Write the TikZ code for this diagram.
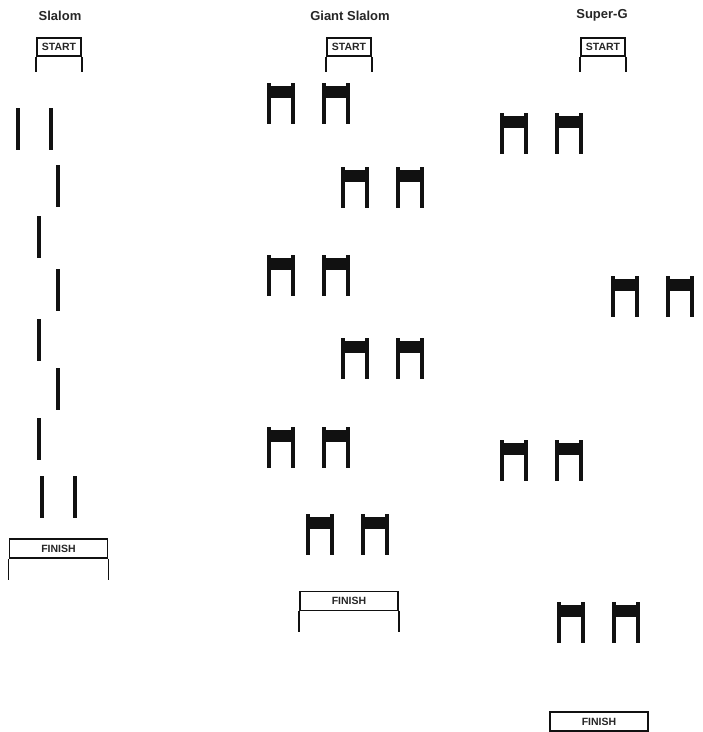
\documentclass[tikz,border=0pt]{standalone}
\usepackage{fontspec}
\setmainfont{Liberation Sans}
\usepackage{tikz}
\usetikzlibrary{positioning}
\definecolor{encre}{HTML}{111111}
\definecolor{texte}{HTML}{262626}
\tikzset{
  titre/.style={font=\fontsize{13}{15}\selectfont\bfseries, text=texte, anchor=base},
  banner/.style={rectangle, draw=encre, line width=1.9pt, fill=white, inner sep=0pt,
                 font=\fontsize{10.5}{12}\selectfont\bfseries, text=texte},
  startbox/.style={banner, minimum width=44pt, minimum height=18pt},
  finishbox/.style={banner, minimum width=98pt, minimum height=19pt},
  leg/.style={line width=1.7pt, draw=encre},
  pole/.style={line width=3.2pt, draw=encre},
  gate/.pic={
    \fill[encre] (0,3) rectangle (24,15);
    \draw[pole] (0,0) -- (0,41);
    \draw[pole] (24,0) -- (24,41);
  },
  gatepair/.pic={
    \pic at (0,0) {gate};
    \pic at (55,0) {gate};
  },
}
\begin{document}
\begin{tikzpicture}[x=1pt, y=-1pt]
    \useasboundingbox (0,0) rectangle (703,732);
    % titles
    \node[titre] (sltitle) at (60,20) {Slalom};
    \node[titre] (gstitle) at (350,20) {Giant Slalom};
    \node[titre] (sgtitle) at (602,18) {Super-G};
    % start banners
    \node[startbox] (slstart) at (59,47) {START};
    \node[startbox] (gsstart) at (349,47) {START};
    \node[startbox] (sgstart) at (603,47) {START};
    \foreach \b in {slstart, gsstart, sgstart}{
      \draw[leg] (\b.south west) -- ++(0,15);
      \draw[leg] (\b.south east) -- ++(0,15);
    }
    % slalom poles
    \foreach \x/\y in {18/108, 51/108, 58/165, 39/216, 58/269, 39/319, 58/368, 39/418, 42/476, 75/476}
      \draw[pole] (\x,\y) -- ++(0,42);
    % giant slalom gates
    \foreach \x/\y in {269/83, 343/167, 269/255, 343/338, 269/427, 308/514}
      \pic at (\x,\y) {gatepair};
    % super-g gates
    \foreach \x/\y in {502/113, 613/276, 502/440, 559/602}
      \pic at (\x,\y) {gatepair};
    % finish banners
    \node[finishbox] (slfinish) at (58.5,548.5) {FINISH};
    \node[finishbox] (gsfinish) at (349,601) {FINISH};
    \node[finishbox] (sgfinish) at (599,721.5) {FINISH};
    \foreach \b in {slfinish, gsfinish, sgfinish}{
      \draw[leg] (\b.south west) -- ++(0,21);
      \draw[leg] (\b.south east) -- ++(0,21);
    }
  \end{tikzpicture}
\end{document}
